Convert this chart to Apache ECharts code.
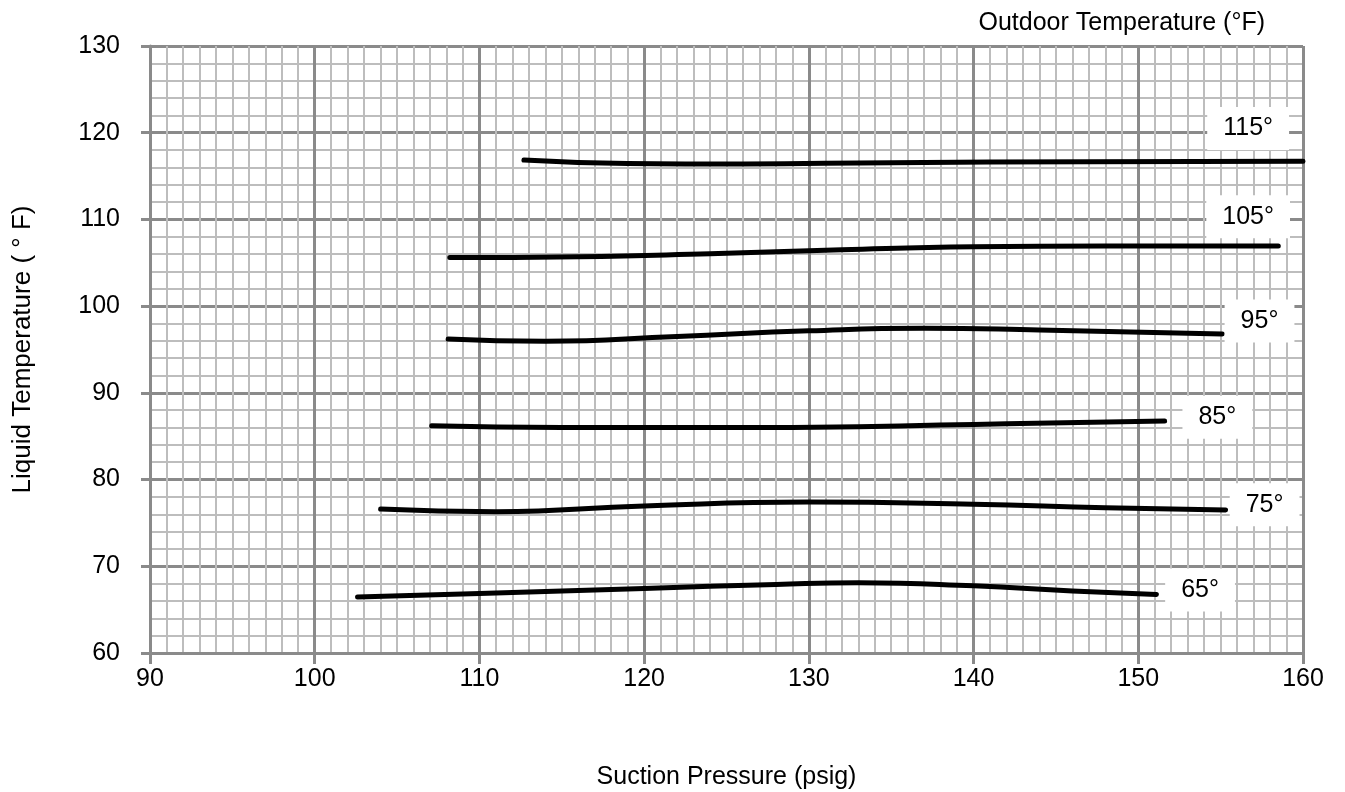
<!DOCTYPE html>
<html>
<head>
<meta charset="utf-8">
<script src="https://cdn.jsdelivr.net/npm/echarts@6/dist/echarts.min.js"></script>
<style>
html,body{margin:0;padding:0;background:#fff;}
#chart{width:1345px;height:792px;}
</style>
</head>
<body>
<div id="chart"></div>
<script>
// Suction pressure (psig) vs liquid temperature (°F), one curve per outdoor temperature
const curve65  = [[102.6,66.45],[110,66.85],[120,67.45],[128,67.9],[133,68.1],[140,67.75],[146,67.15],[151.1,66.75]];
const curve75  = [[104.0,76.6],[111,76.3],[120,76.95],[130,77.4],[140,77.15],[148,76.75],[155.3,76.5]];
const curve85  = [[107.1,86.2],[115,86.0],[125,86.0],[133,86.1],[142,86.45],[151.6,86.75]];
const curve95  = [[108.1,96.2],[114,95.95],[122,96.5],[130,97.15],[137,97.45],[144,97.25],[155.1,96.8]];
const curve105 = [[108.2,105.6],[116,105.7],[124,106.05],[132,106.5],[140,106.85],[148,106.95],[158.5,106.95]];
const curve115 = [[112.7,116.85],[119,116.45],[126,116.4],[135,116.55],[147,116.65],[160,116.7]];

const curves = [curve65, curve75, curve85, curve95, curve105, curve115];

// Curve labels (outdoor temperature) and where they sit, in data units
const labelTexts = ['65°','75°','85°','95°','105°','115°'];
const labelX = [153.75, 157.67, 154.8, 157.36, 156.67, 156.67];
const labelY = [67.26, 77.1, 87.2, 98.3, 110.3, 120.5];

// Axis ranges
const xMin = 90, xMax = 160, xStep = 10;
const yMin = 60, yMax = 130, yStep = 10;

const FONT = '"Liberation Sans", Arial, sans-serif';
const MAJOR = '#8a8a8a';
const MINOR = '#bdbdbd';

const chart = echarts.init(document.getElementById('chart'), null, {renderer: 'canvas'});

const series = curves.map(function (c) {
  return {
    type: 'line',
    data: c,
    smooth: 0.5,
    showSymbol: false,
    symbol: 'none',
    lineStyle: {color: '#000', width: 5, cap: 'round', join: 'round'},
    z: 3,
    silent: true
  };
});

series.push({
  type: 'scatter',
  data: labelTexts.map(function (t, i) { return {value: [labelX[i], labelY[i]], name: t}; }),
  symbolSize: 1,
  itemStyle: {color: 'rgba(255,255,255,0)', opacity: 1},
  z: 5,
  silent: true,
  label: {
    show: true,
    position: 'inside',
    formatter: function (p) { return p.name; },
    color: '#000',
    opacity: 1,
    fontFamily: FONT,
    fontSize: 25,
    backgroundColor: '#ffffff',
    padding: [9, 16, 9, 16]
  }
});

const option = {
  animation: false,
  backgroundColor: '#fff',
  title: {
    text: 'Outdoor Temperature (°F)',
    right: 75,
    top: 6,
    textStyle: {fontFamily: FONT, fontSize: 25, fontWeight: 'normal', color: '#000'}
  },
  grid: {left: 150, right: 42, top: 46, bottom: 139, containLabel: false, outerBoundsMode: 'none'},
  xAxis: {
    type: 'value',
    min: xMin, max: xMax, interval: xStep,
    name: 'Suction Pressure (psig)',
    nameLocation: 'middle',
    nameGap: 112,
    nameTextStyle: {fontFamily: FONT, fontSize: 25, color: '#000'},
    axisLine: {show: true, onZero: false, lineStyle: {color: MAJOR, width: 3}},
    axisTick: {show: true, inside: false, length: 11, lineStyle: {color: MAJOR, width: 3}},
    axisLabel: {fontFamily: FONT, fontSize: 25, color: '#000', margin: 14},
    splitLine: {show: true, lineStyle: {color: MAJOR, width: 3}},
    minorTick: {show: false, splitNumber: 10},
    minorSplitLine: {show: true, lineStyle: {color: MINOR, width: 2}}
  },
  yAxis: {
    type: 'value',
    min: yMin, max: yMax, interval: yStep,
    name: 'Liquid Temperature ( ° F)',
    nameLocation: 'middle',
    nameGap: 114,
    nameRotate: 90,
    nameTextStyle: {fontFamily: FONT, fontSize: 26, color: '#000'},
    axisLine: {show: true, onZero: false, lineStyle: {color: MAJOR, width: 3}},
    axisTick: {show: true, inside: false, length: 9, lineStyle: {color: MAJOR, width: 3}},
    axisLabel: {fontFamily: FONT, fontSize: 25, color: '#000', margin: 30},
    splitLine: {show: true, lineStyle: {color: MAJOR, width: 3}},
    minorTick: {show: false, splitNumber: 5},
    minorSplitLine: {show: true, lineStyle: {color: MINOR, width: 2}}
  },
  series: series
};

chart.setOption(option);
</script>
</body>
</html>
